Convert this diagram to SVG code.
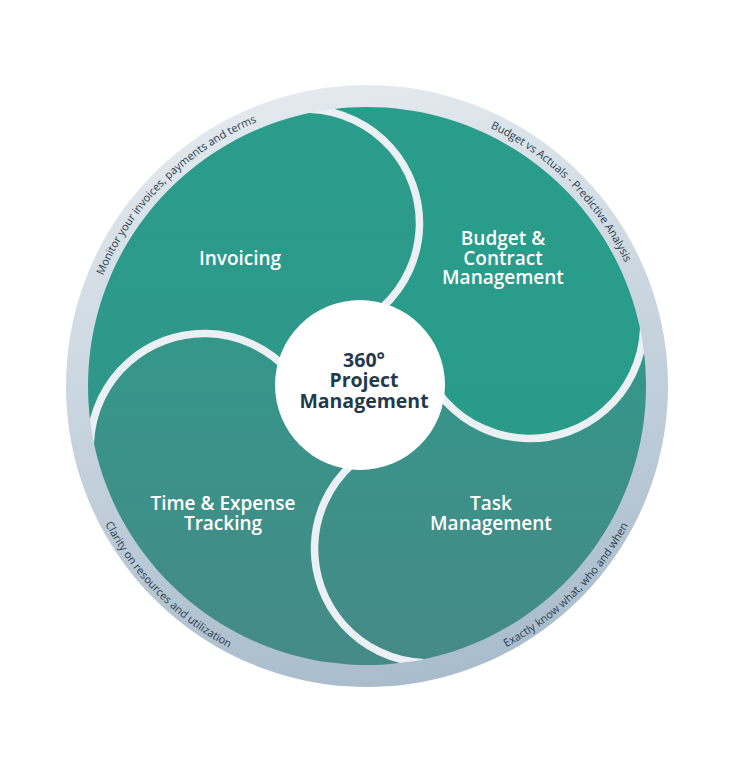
<svg xmlns="http://www.w3.org/2000/svg" width="730" height="761" viewBox="0 0 730 761">
  <defs>
    <linearGradient id="gRing" gradientUnits="userSpaceOnUse" x1="300" y1="85" x2="420" y2="687">
      <stop offset="0" stop-color="#e4eaef"/>
      <stop offset="1" stop-color="#a8bccb"/>
    </linearGradient>
    <linearGradient id="gInv" gradientUnits="userSpaceOnUse" x1="0" y1="100" x2="0" y2="460">
      <stop offset="0" stop-color="#2a9d8b"/>
      <stop offset="1" stop-color="#30968a"/>
    </linearGradient>
    <linearGradient id="gBud" gradientUnits="userSpaceOnUse" x1="0" y1="100" x2="0" y2="450">
      <stop offset="0" stop-color="#299d8b"/>
      <stop offset="1" stop-color="#2a9b8a"/>
    </linearGradient>
    <linearGradient id="gTask" gradientUnits="userSpaceOnUse" x1="0" y1="330" x2="0" y2="670">
      <stop offset="0" stop-color="#33978a"/>
      <stop offset="1" stop-color="#478a87"/>
    </linearGradient>
    <linearGradient id="gTime" gradientUnits="userSpaceOnUse" x1="0" y1="320" x2="0" y2="670">
      <stop offset="0" stop-color="#34978a"/>
      <stop offset="1" stop-color="#468a87"/>
    </linearGradient>
    <path id="arcInv" d="M 90.7 460 A 286 286 0 0 1 441 109.7"/>
    <path id="arcBud" d="M 293 109.7 A 286 286 0 0 1 643.3 460"/>
    <path id="arcTime" d="M 81.1 309.4 A 296 296 0 0 0 443.6 671.9"/>
    <path id="arcTask" d="M 290.4 671.9 A 296 296 0 0 0 652.9 309.4"/>
  </defs>
  <style>
    .sep { fill: none; stroke: #ebf0f4; stroke-width: 7.5; }
    .lbl { font-family: "Open Sans", "Liberation Sans", sans-serif; font-size: 19px; font-weight: 600; fill: #ffffff; text-anchor: middle; }
    .ctr { font-family: "Open Sans", "Liberation Sans", sans-serif; font-size: 19.5px; font-weight: 700; fill: #1f3b4d; text-anchor: middle; }
    .ring { font-family: "Open Sans", "Liberation Sans", sans-serif; font-size: 11px; fill: #2a3d4f; }
  </style>

  <!-- sectors -->
  <g id="invoicing">
    <path d="M 367 386 L 99.2 483.5 A 285 285 0 0 1 269.5 118.2 Z" fill="url(#gInv)"/>
  </g>
  <g id="budget">
    <path d="M 367 386 L 269.5 118.2 A 285 285 0 0 1 634.8 288.5 Z" fill="url(#gBud)"/>
  </g>
  <g id="task">
    <path d="M 367 386 L 634.8 288.5 A 285 285 0 0 1 464.5 653.8 Z" fill="url(#gTask)"/>
  </g>
  <g id="time">
    <path d="M 367 386 L 464.5 653.8 A 285 285 0 0 1 99.2 483.5 Z" fill="url(#gTime)"/>
  </g>

  <!-- lobes -->
  <g id="invoicing-lobe">
    <circle cx="307.5" cy="222.5" r="114" fill="url(#gInv)"/>
  </g>
  <g id="budget-lobe">
    <circle cx="530.5" cy="326.5" r="114" fill="url(#gBud)"/>
  </g>
  <g id="task-lobe">
    <circle cx="426.5" cy="549.5" r="114" fill="url(#gTask)"/>
  </g>
  <g id="time-lobe">
    <circle cx="203.5" cy="445.5" r="114" fill="url(#gTime)"/>
  </g>

  <!-- separators -->
  <g id="connectors">
    <path class="sep" d="M 268.5 115.4 A 114 114 0 0 1 346.5 329.6"/>
    <path class="sep" d="M 637.6 287.5 A 114 114 0 0 1 423.4 365.5"/>
    <path class="sep" d="M 465.5 656.6 A 114 114 0 0 1 387.5 442.4"/>
    <path class="sep" d="M 96.4 484.5 A 114 114 0 0 1 310.6 406.5"/>
  </g>

  <!-- outer ring -->
  <g id="ring">
    <path fill="url(#gRing)" fill-rule="evenodd" d="M 367 85 A 301 301 0 1 1 366.99 85 Z M 367 107 A 279 279 0 1 0 367.01 107 Z"/>
    <text class="ring"><textPath href="#arcInv" startOffset="50%" text-anchor="middle">Monitor your invoices, payments and terms</textPath></text>
    <text class="ring"><textPath href="#arcBud" startOffset="50%" text-anchor="middle">Budget vs Actuals - Predictive Analysis</textPath></text>
    <text class="ring"><textPath href="#arcTime" startOffset="50%" text-anchor="middle">Clarity on resources and utilization</textPath></text>
    <text class="ring"><textPath href="#arcTask" startOffset="50%" text-anchor="middle">Exactly know what, who and when</textPath></text>
  </g>

  <!-- center -->
  <g id="center">
    <circle cx="360" cy="385" r="85" fill="#ffffff"/>
    <text class="ctr" x="364" y="367">360°</text>
    <text class="ctr" x="364" y="387">Project</text>
    <text class="ctr" x="364" y="408">Management</text>
  </g>

  <!-- labels -->
  <g id="labels">
    <text class="lbl" x="240" y="265">Invoicing</text>
    <text class="lbl" x="503" y="245">Budget &amp;</text>
    <text class="lbl" x="503" y="265">Contract</text>
    <text class="lbl" x="503" y="284">Management</text>
    <text class="lbl" x="223" y="510">Time &amp; Expense</text>
    <text class="lbl" x="223" y="530">Tracking</text>
    <text class="lbl" x="491" y="510">Task</text>
    <text class="lbl" x="491" y="530">Management</text>
  </g>
</svg>
